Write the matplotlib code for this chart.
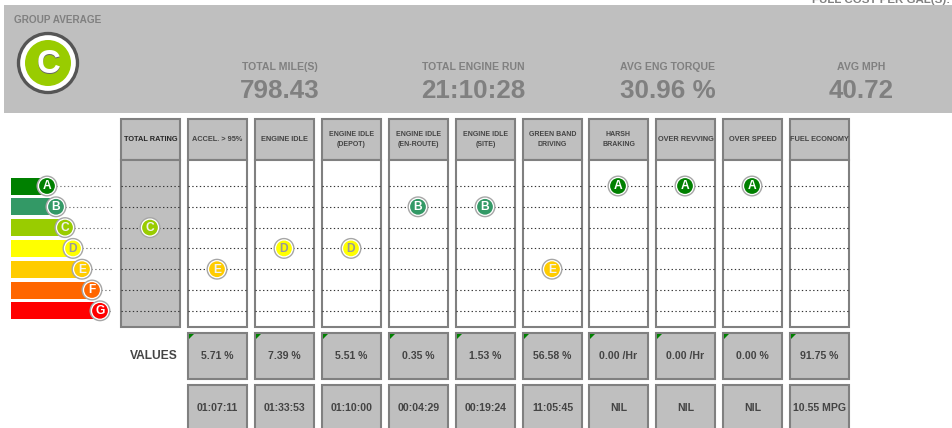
import matplotlib
matplotlib.use("Agg")
import matplotlib.pyplot as plt
from matplotlib.patches import Rectangle, Circle, Polygon

plt.rcParams['font.family'] = ['Liberation Sans', 'DejaVu Sans']

grades = ['A', 'B', 'C', 'D', 'E', 'F', 'G']
grade_colors = ['#008000', '#339966', '#99CC00', '#FFFF00', '#FFCC00', '#FF6600', '#FF0000']
categories = ['TOTAL RATING', 'ACCEL. > 95%', 'ENGINE IDLE', 'ENGINE IDLE\n(DEPOT)',
              'ENGINE IDLE\n(EN-ROUTE)', 'ENGINE IDLE\n(SITE)', 'GREEN BAND\nDRIVING',
              'HARSH\nBRAKING', 'OVER REVVING', 'OVER SPEED', 'FUEL ECONOMY']
ratings = ['C', 'E', 'D', 'D', 'B', 'B', 'E', 'A', 'A', 'A', None]
values = ['5.71 %', '7.39 %', '5.51 %', '0.35 %', '1.53 %', '56.58 %',
          '0.00 /Hr', '0.00 /Hr', '0.00 %', '91.75 %']
durations = ['01:07:11', '01:33:53', '01:10:00', '00:04:29', '00:19:24', '11:05:45',
             'NIL', 'NIL', 'NIL', '10.55 MPG']
summary_labels = ['TOTAL MILE(S)', 'TOTAL ENGINE RUN', 'AVG ENG TORQUE', 'AVG MPH']
summary_values = ['798.43', '21:10:28', '30.96 %', '40.72']
overall_grade = 'C'

W, H = 952, 428
fig = plt.figure(figsize=(W / 100, H / 100), dpi=100, facecolor='white')
ax = fig.add_axes([0, 0, 1, 1])
ax.set_xlim(0, W)
ax.set_ylim(H, 0)
ax.axis('off')

GRAY = '#BFBFBF'
EDGE = '#808080'
TXT = '#808080'
px = 0.72

col_left = [121, 188, 255, 322, 389, 456, 523, 589, 656, 723, 790]
col_w = 59
row_y = [186 + 20.8 * i for i in range(7)]
color_of = dict(zip(grades, grade_colors))


def badge(x, letter, y, r=8.5, fs=12):
    c = color_of[letter]
    ax.add_patch(Circle((x, y), r + 2, fc='#A6A6A6', ec='none', zorder=5))
    ax.add_patch(Circle((x, y), r, fc=c, ec='white', lw=0.9, zorder=6))
    tc = '#999999' if letter == 'D' else ('#F2F2F2' if letter in 'EC' else 'white')
    ax.text(x, y + 0.4, letter, color=tc, fontsize=fs * px, fontweight='bold',
            ha='center', va='center', zorder=7)


def dotted(x0, x1, y, color='#333333'):
    ax.plot([x0, x1], [y, y], color=color, lw=0.8, dashes=(1.2, 2.2), zorder=3,
            solid_capstyle='butt', dash_capstyle='butt')


# Summary band
ax.add_patch(Rectangle((4, 5), W - 4, 108, fc=GRAY, ec='none', zorder=1))
ax.text(14, 20, 'GROUP AVERAGE', color=TXT, fontsize=10 * px, fontweight='bold',
        ha='left', va='center', zorder=2)
ax.text(812, 0, 'FULL COST PER GAL(S): £4.', color=TXT, fontsize=11.5 * px, fontweight='bold',
        ha='left', va='center', zorder=2)
ax.add_patch(Circle((48, 63), 29.5, fc='white', ec='#555555', lw=2.4, zorder=2))
ax.add_patch(Circle((48, 63), 23, fc=color_of[overall_grade], ec='none', zorder=3))
ax.text(49, 65, overall_grade, color='#666666', fontsize=33 * px, fontweight='bold',
        ha='center', va='center', zorder=4)
ax.text(48, 64, overall_grade, color='white', fontsize=33 * px, fontweight='bold',
        ha='center', va='center', zorder=5)
for x, lab, val in zip([280, 473, 668, 861], summary_labels, summary_values):
    ax.text(x, 67, lab, color=TXT, fontsize=10.5 * px, fontweight='bold',
            ha='center', va='center', zorder=2)
    ax.text(x, 91, val, color=TXT, fontsize=26 * px, fontweight='bold',
            ha='center', va='center', zorder=2)

# Legend scale
badge_x = [47, 56, 65, 73, 82, 92, 100]
for g, c, x, y in zip(grades, grade_colors, badge_x, row_y):
    ax.add_patch(Rectangle((10.5, y - 8.5), x - 10.5 + 4, 17, fc=c, ec='none', zorder=2))
    dotted(x + 9, 112, y, color='#777777')
    badge(x, g, y)

# Rating columns
for i, (left, cat, rating) in enumerate(zip(col_left, categories, ratings)):
    ax.add_patch(Rectangle((left, 119), col_w, 41, fc=GRAY, ec=EDGE, lw=1.5, zorder=2))
    ax.add_patch(Rectangle((left, 160), col_w, 166.5, fc=GRAY if i == 0 else 'white',
                           ec=EDGE, lw=1.5, zorder=2))
    ax.text(left + col_w / 2, 139.5, cat, color='#262626' if i == 0 else '#444444',
            fontsize=7.4 * px if '\n' not in cat else 7 * px, fontweight='bold',
            ha='center', va='center', linespacing=1.65, zorder=3)
    for y in row_y:
        dotted(left, left + col_w, y)
    if rating is not None:
        badge(left + col_w / 2 - 0.5, rating, row_y[grades.index(rating)])

# Value tiles
ax.text(178, 356, 'VALUES', color='#444444', fontsize=12 * px, fontweight='bold',
        ha='right', va='center', zorder=2)
for left, val, dur in zip(col_left[1:], values, durations):
    ax.add_patch(Rectangle((left, 333), col_w, 45.5, fc=GRAY, ec=EDGE, lw=1.5, zorder=2))
    ax.add_patch(Polygon([(left + 1, 334), (left + 6, 334), (left + 1, 339)],
                         fc='#008000', ec='none', zorder=3))
    ax.text(left + col_w / 2, 356, val, color='#444444', fontsize=10.5 * px, fontweight='bold',
            ha='center', va='center', zorder=3)
    ax.add_patch(Rectangle((left, 385), col_w, 60, fc=GRAY, ec=EDGE, lw=1.5, zorder=2))
    ax.text(left + col_w / 2, 408, dur, color='#444444', fontsize=10.5 * px, fontweight='bold',
            ha='center', va='center', zorder=3)

fig.savefig('out.png', dpi=100, facecolor='white')
